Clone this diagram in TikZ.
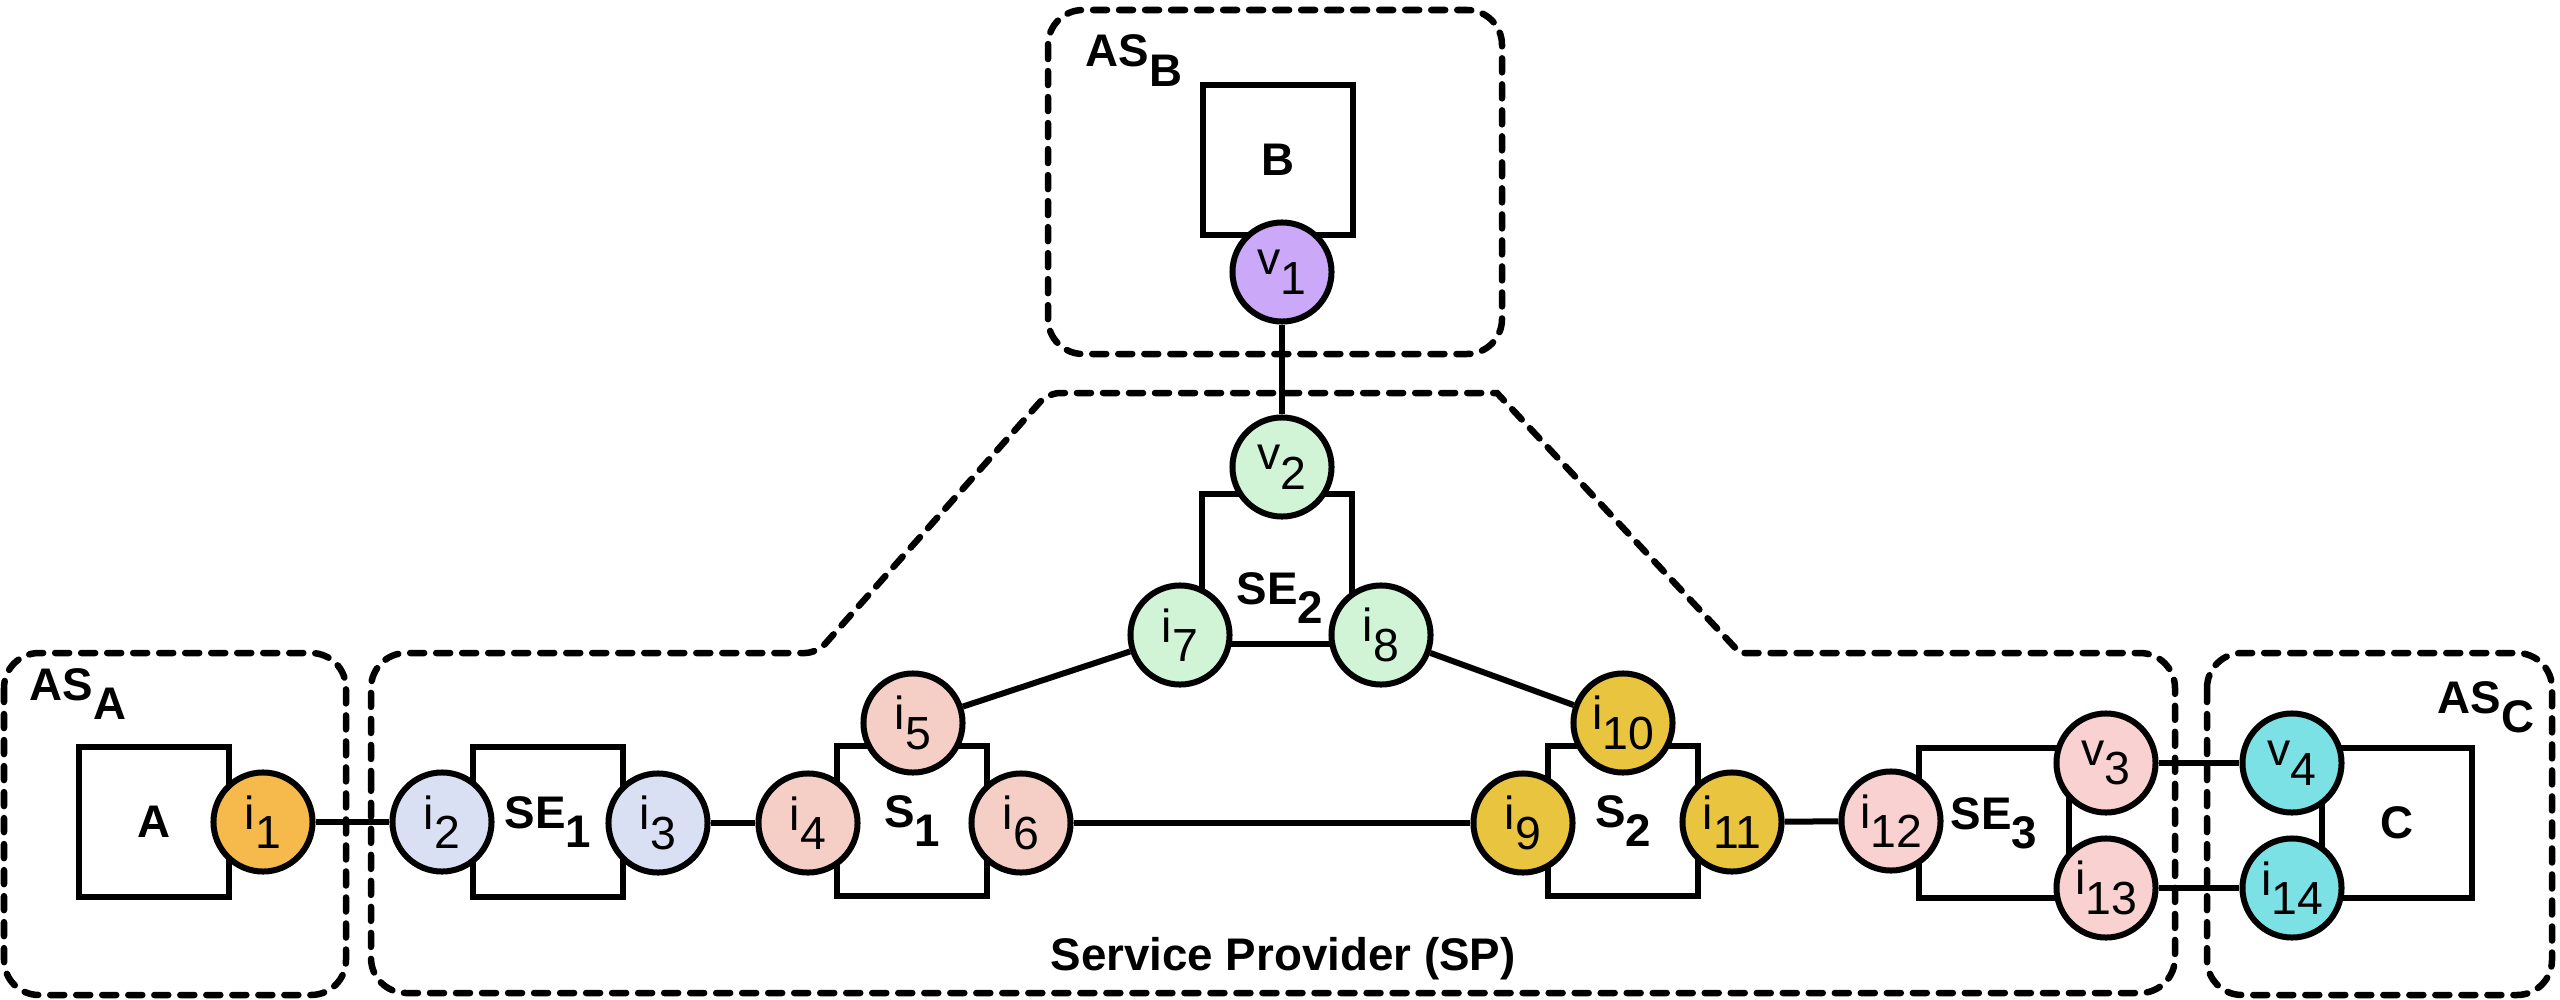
\documentclass[tikz,border=0pt]{standalone}
\usepackage{fontspec}
\setmainfont{Liberation Sans}
\definecolor{cOrange}{HTML}{F5B94C}
\definecolor{cLav}{HTML}{DAE0F4}
\definecolor{cSalmon}{HTML}{F5CEC5}
\definecolor{cPurple}{HTML}{CCA8F8}
\definecolor{cGreen}{HTML}{D0F4D5}
\definecolor{cGold}{HTML}{E9C43F}
\definecolor{cPink}{HTML}{F9D1D0}
\definecolor{cCyan}{HTML}{7CE1E5}
\newcommand\portfont{\fontsize{13.2}{15}\selectfont}
\newcommand\unitfont{\fontsize{13}{15}\selectfont\bfseries}
% subscript set at full size and lowered
\newcommand\lowsub[2]{#1\raisebox{-0.42em}{#2}}
\tikzset{
  x=0.01cm, y=-0.01cm,
  wire/.style={line width=0.06cm},
  port/.style={circle, draw, line width=0.06cm, minimum size=0.99cm, inner sep=0pt, font=\portfont},
  unitbox/.style={rectangle, draw, line width=0.06cm, minimum width=1.5cm, minimum height=1.5cm, inner sep=0pt, font=\unitfont},
  asframe/.style={draw, line width=0.065cm, dash pattern=on 0.14cm off 0.12cm, line cap=round},
  aslabel/.style={anchor=base west, inner sep=0pt, font=\unitfont},
}
\begin{document}
\begin{tikzpicture}
\useasboundingbox (0,0) rectangle (2560,1000);

% administrative domains
\draw[asframe, rounded corners=0.35cm] (4,653) rectangle (346,995);
\draw[asframe, rounded corners=0.35cm] (1048,10) rectangle (1502,354);
\draw[asframe, rounded corners=0.35cm] (2207,653) rectangle (2552,995);
\draw[asframe] (371,820) [rounded corners=0.35cm] -- (371,653)
  [rounded corners=0.12cm] -- (817,653) [rounded corners=0.12cm] -- (1048,393)
  [sharp corners] -- (1497,393) [sharp corners] -- (1740,653)
  [rounded corners=0.35cm] -- (2175,653) -- (2175,993) -- (371,993) -- cycle;

\node[aslabel] (lblA) at (29,700) {\lowsub{AS}{A}};
\node[aslabel] (lblB) at (1085,67) {\lowsub{AS}{B}};
\node[aslabel] (lblC) at (2437,713) {\lowsub{AS}{C}};
\node[anchor=base, inner sep=0pt, font=\unitfont] (lblSP) at (1283,970) {Service Provider (SP)};

% hosts and service elements
\node[unitbox] (A) at (154,822) {A};
\node[unitbox] (B) at (1278,160) {B};
\node[unitbox] (C) at (2397,823) {C};
\node[unitbox] (SE1) at (548,822) {\lowsub{SE}{1}};
\node[unitbox] (S1) at (912,821) {\lowsub{S}{1}};
\node[unitbox] (SE2) at (1277,569) {};
\node[inner sep=0pt, font=\unitfont] (SE2lbl) at (1280,598) {\lowsub{SE}{2}};
\node[unitbox] (S2) at (1623,821) {\lowsub{S}{2}};
\node[unitbox] (SE3) at (1994,823) {\lowsub{SE}{3}};

% interfaces
\node[port, fill=cOrange] (i1) at (263,822) {\lowsub{i}{1}};
\node[port, fill=cLav] (i2) at (442,822) {\lowsub{i}{2}};
\node[port, fill=cLav] (i3) at (658,823) {\lowsub{i}{3}};
\node[port, fill=cSalmon] (i4) at (808,823) {\lowsub{i}{4}};
\node[port, fill=cSalmon] (i5) at (913,723) {\lowsub{i}{5}};
\node[port, fill=cSalmon] (i6) at (1021,823) {\lowsub{i}{6}};
\node[port, fill=cPurple] (v1) at (1282,272) {\lowsub{v}{1}};
\node[port, fill=cGreen] (v2) at (1282,467) {\lowsub{v}{2}};
\node[port, fill=cGreen] (i7) at (1180,635) {\lowsub{i}{7}};
\node[port, fill=cGreen] (i8) at (1381,635) {\lowsub{i}{8}};
\node[port, fill=cGold] (i9) at (1523,823) {\lowsub{i}{9}};
\node[port, fill=cGold] (i10) at (1623,723) {\lowsub{i}{10}};
\node[port, fill=cGold] (i11) at (1732,822) {\lowsub{i}{11}};
\node[port, fill=cPink] (i12) at (1891,821) {\lowsub{i}{12}};
\node[port, fill=cPink] (v3) at (2106,763) {\lowsub{v}{3}};
\node[port, fill=cPink] (i13) at (2106,888) {\lowsub{i}{13}};
\node[port, fill=cCyan] (v4) at (2292,763) {\lowsub{v}{4}};
\node[port, fill=cCyan] (i14) at (2292,888) {\lowsub{i}{14}};

% links
\draw[wire] (i1) -- (i2);
\draw[wire] (i3) -- (i4);
\draw[wire] (i5) -- (i7);
\draw[wire] (i6) -- (i9);
\draw[wire] (i8) -- (i10);
\draw[wire] (v1) -- (v2);
\draw[wire] (i11) -- (i12);
\draw[wire] (v3) -- (v4);
\draw[wire] (i13) -- (i14);
\end{tikzpicture}
\end{document}
